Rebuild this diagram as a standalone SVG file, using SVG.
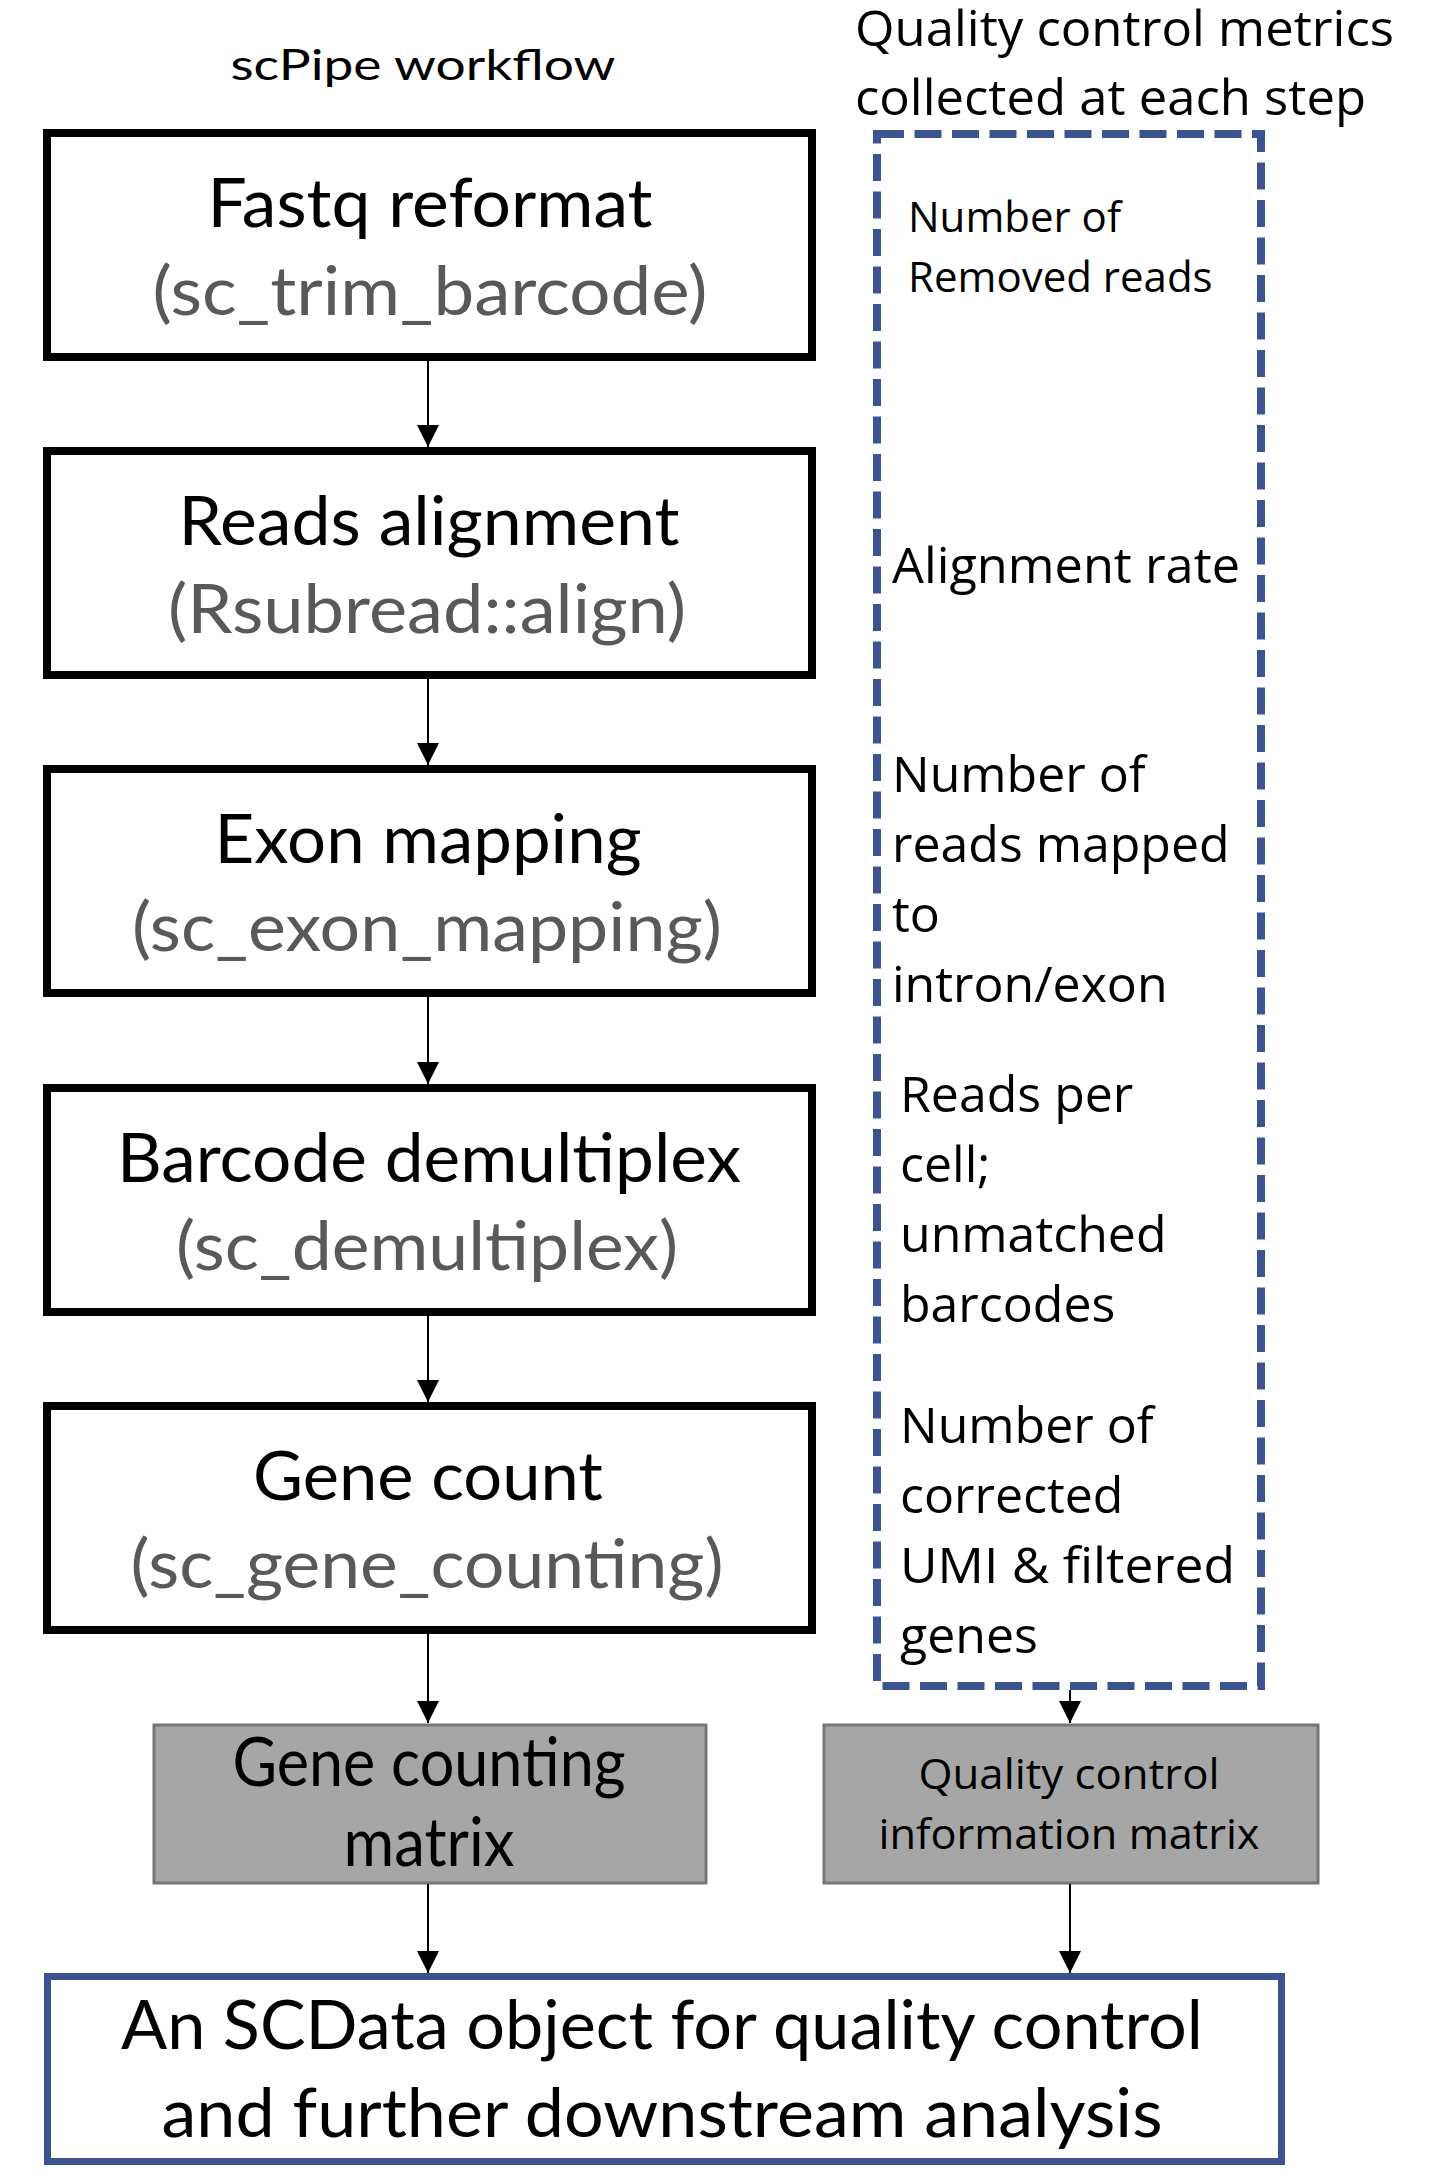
<svg xmlns="http://www.w3.org/2000/svg" width="1445" height="2179" viewBox="0 0 1445 2179">
<style>
.step{fill:#fff;stroke:#000;stroke-width:8}
.mat{fill:#a6a6a6;stroke:#767676;stroke-width:3}
.t1{font-family:Lato,"Liberation Sans",sans-serif;font-size:68px;fill:#000;text-anchor:middle}
.t2{font-family:Lato,"Liberation Sans",sans-serif;font-size:68px;fill:#595959;text-anchor:middle}
.qc{font-family:"Open Sans","DejaVu Sans",sans-serif;font-size:50px;fill:#000}
.qcs{font-family:"Open Sans","DejaVu Sans",sans-serif;font-size:42px;fill:#000}
.conn{stroke:#000;stroke-width:2;fill:none;marker-end:url(#ah)}
</style>
<defs>
<marker id="ah" viewBox="0 0 22 22" refX="22" refY="11" markerWidth="22" markerHeight="22" markerUnits="userSpaceOnUse" orient="auto">
<path d="M0,0 L22,11 L0,22 z" fill="#000"/>
</marker>
</defs>
<rect width="1445" height="2179" fill="#fff"/>

<g id="title-left">
<text x="423" y="80" font-family="Lato,'Liberation Sans',sans-serif" font-size="42" text-anchor="middle" textLength="385" lengthAdjust="spacingAndGlyphs">scPipe workflow</text>
</g>
<g id="title-right">
<text class="qc" x="855" y="46" textLength="539" lengthAdjust="spacingAndGlyphs">Quality control metrics</text>
<text class="qc" x="855" y="115" textLength="511" lengthAdjust="spacingAndGlyphs">collected at each step</text>
</g>

<g id="step1">
<rect class="step" x="47" y="133" width="765" height="224"/>
<text class="t1" x="430" y="227" textLength="445" lengthAdjust="spacingAndGlyphs">Fastq reformat</text>
<text class="t2" x="430" y="315" textLength="555" lengthAdjust="spacingAndGlyphs">(sc_trim_barcode)</text>
</g>
<g id="step2">
<rect class="step" x="47" y="451" width="765" height="224"/>
<text class="t1" x="429" y="545" textLength="501" lengthAdjust="spacingAndGlyphs">Reads alignment</text>
<text class="t2" x="427" y="633" textLength="518" lengthAdjust="spacingAndGlyphs">(Rsubread::align)</text>
</g>
<g id="step3">
<rect class="step" x="47" y="769" width="765" height="224"/>
<text class="t1" x="428" y="863" textLength="427" lengthAdjust="spacingAndGlyphs">Exon mapping</text>
<text class="t2" x="427" y="951" textLength="590" lengthAdjust="spacingAndGlyphs">(sc_exon_mapping)</text>
</g>
<g id="step4">
<rect class="step" x="47" y="1088" width="765" height="224"/>
<text class="t1" x="429" y="1182" textLength="624" lengthAdjust="spacingAndGlyphs">Barcode demultiplex</text>
<text class="t2" x="427" y="1270" textLength="502" lengthAdjust="spacingAndGlyphs">(sc_demultiplex)</text>
</g>
<g id="step5">
<rect class="step" x="47" y="1406" width="765" height="224"/>
<text class="t1" x="428" y="1500" textLength="350" lengthAdjust="spacingAndGlyphs">Gene count</text>
<text class="t2" x="427" y="1588" textLength="593" lengthAdjust="spacingAndGlyphs">(sc_gene_counting)</text>
</g>

<g id="qc-metrics">
<rect x="877" y="134" width="384" height="1552" fill="none" stroke="#3b5490" stroke-width="8" stroke-dasharray="27 10.5"/>
<text class="qcs" x="908" y="232">Number of</text>
<text class="qcs" x="908" y="292">Removed reads</text>
<text class="qc" x="892" y="583" textLength="348" lengthAdjust="spacingAndGlyphs">Alignment rate</text>
<text class="qc" x="892" y="792">Number of</text>
<text class="qc" x="892" y="862">reads mapped</text>
<text class="qc" x="892" y="932">to</text>
<text class="qc" x="892" y="1002">intron/exon</text>
<text class="qc" x="900" y="1112">Reads per</text>
<text class="qc" x="900" y="1182">cell;</text>
<text class="qc" x="900" y="1252">unmatched</text>
<text class="qc" x="900" y="1322">barcodes</text>
<text class="qc" x="900" y="1443">Number of</text>
<text class="qc" x="900" y="1513">corrected</text>
<text class="qc" x="900" y="1583" textLength="335" lengthAdjust="spacingAndGlyphs">UMI &amp; filtered</text>
<text class="qc" x="900" y="1653">genes</text>
</g>

<g id="gene-matrix">
<rect class="mat" x="154" y="1725" width="552" height="158"/>
<text class="t1" x="429" y="1786" font-size="60" textLength="393" lengthAdjust="spacingAndGlyphs">Gene counting</text>
<text class="t1" x="429" y="1866" font-size="60" textLength="171" lengthAdjust="spacingAndGlyphs">matrix</text>
</g>
<g id="qc-matrix">
<rect class="mat" x="824" y="1725" width="494" height="158"/>
<text class="qcs" x="1069" y="1789" text-anchor="middle" textLength="301" lengthAdjust="spacingAndGlyphs">Quality control</text>
<text class="qcs" x="1069" y="1849" text-anchor="middle" textLength="381" lengthAdjust="spacingAndGlyphs">information matrix</text>
</g>

<g id="scdata">
<rect x="47.5" y="1976.5" width="1234" height="185" fill="#fff" stroke="#3b5490" stroke-width="7"/>
<text class="t1" x="662" y="2049" font-size="66" textLength="1082" lengthAdjust="spacingAndGlyphs">An SCData object for quality control</text>
<text class="t1" x="662" y="2137" font-size="66" textLength="1001" lengthAdjust="spacingAndGlyphs">and further downstream analysis</text>
</g>

<g id="connectors">
<line class="conn" x1="428" y1="361" x2="428" y2="447"/>
<line class="conn" x1="428" y1="679" x2="428" y2="765"/>
<line class="conn" x1="428" y1="997" x2="428" y2="1084"/>
<line class="conn" x1="428" y1="1316" x2="428" y2="1402"/>
<line class="conn" x1="428" y1="1634" x2="428" y2="1723"/>
<line class="conn" x1="428" y1="1884" x2="428" y2="1973"/>
<line class="conn" x1="1070" y1="1690" x2="1070" y2="1723"/>
<line class="conn" x1="1070" y1="1884" x2="1070" y2="1973"/>
</g>
</svg>
